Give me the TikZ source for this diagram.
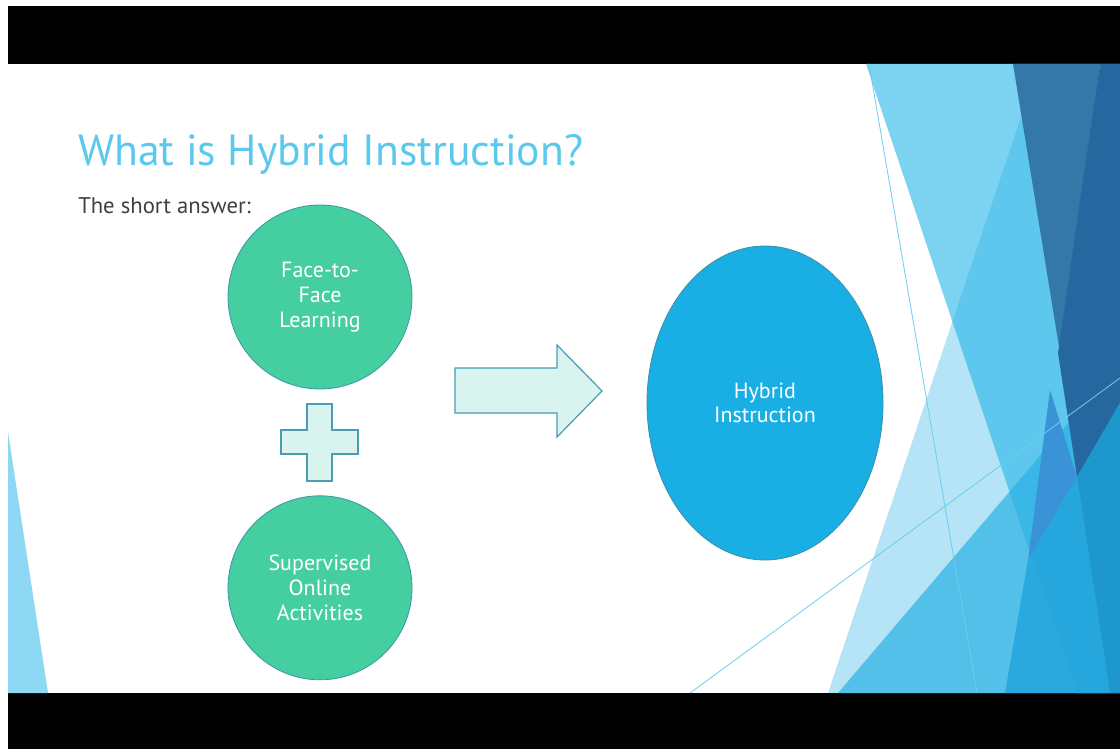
\documentclass[tikz,border=0pt]{standalone}
\usepackage{fontspec}
\setmainfont{PT Sans}
\usepackage{xcolor}
\usepackage{tikz}
\usetikzlibrary{positioning,shapes.geometric}

\definecolor{titleblue}{HTML}{5BC8EE}
\definecolor{bodygray}{HTML}{404040}
\definecolor{mint}{HTML}{45CEA0}
\definecolor{mintedge}{HTML}{3C95A8}
\definecolor{palemint}{HTML}{D9F4EE}
\definecolor{paleedge}{HTML}{4A9BB4}
\definecolor{hybridblue}{HTML}{19AEE4}
\definecolor{hybridedge}{HTML}{3D8EA6}
\definecolor{facetlight}{HTML}{7BD3F1}
\definecolor{facetmid}{HTML}{2AB2E6}
\definecolor{facetsteel}{HTML}{3378A8}
\definecolor{facetdark}{HTML}{2767A0}
\definecolor{facetviolet}{HTML}{3A93D6}
\definecolor{facetdeep}{HTML}{1E97CC}
\definecolor{facetbright}{HTML}{22A5DD}
\definecolor{facetline}{HTML}{6DCDEF}
\definecolor{facetsliver}{HTML}{8ED8F3}

\begin{document}
\begin{tikzpicture}[x=0.75pt,y=-0.75pt,
  bubble/.style={circle, fill=mint, draw=mintedge, line width=0.6pt,
    minimum size=138pt, text=white, align=center,
    font=\fontsize{16.5}{18.5}\selectfont},
  paleshape/.style={fill=palemint, draw=paleedge, line width=0.9pt},
  thinline/.style={facetline, line width=0.6pt}]
\useasboundingbox (0,0) rectangle (1120,749);

% Slide background and black bars
\fill[white] (0,0) rectangle (1120,749);
\fill[black] (8,6) rectangle (1120,64);
\fill[black] (8,693) rectangle (1120,749);

% Facet decoration on the right
\begin{scope}
\clip (8,64) rectangle (1120,693);
\fill[facetlight] (866,64) -- (1120,64) -- (1120,693) -- (1077,693) -- cycle;
\fill[facetmid, opacity=0.35] (1025,105) -- (828,693) -- (1120,693) -- (1120,400) -- cycle;
\fill[facetmid, opacity=0.7] (838,693) -- (1120,362) -- (1120,693) -- cycle;
\fill[facetsteel] (1013,64) -- (1100,64) -- (1060,353) -- cycle;
\fill[facetdark] (1100,64) -- (1120,64) -- (1120,403) -- (1077,477) -- (1058,353) -- cycle;
\fill[facetviolet] (1050,390) -- (1077,477) -- (1028,560) -- cycle;
\fill[facetbright, opacity=0.85] (1077,477) -- (1028,560) -- (1005,693) -- (1110,693) -- cycle;
\fill[facetdeep] (1120,403) -- (1077,477) -- (1110,693) -- (1120,693) -- cycle;
\draw[thinline] (869,64) -- (977,693);
\draw[thinline] (690,693) -- (1120,378);
% Left sliver
\fill[facetsliver] (8,432) -- (48,693) -- (8,693) -- cycle;
\end{scope}

% Title and subtitle
\node[anchor=base west, text=titleblue, inner sep=0pt,
  font=\fontsize{32.7}{38}\selectfont] (title) at (78,165) {What is Hybrid Instruction?};
\node[anchor=base west, text=bodygray, inner sep=0pt,
  font=\fontsize{17}{20}\selectfont] (short) at (78,213) {The short answer:};

% Two inputs
\node[bubble] (face) at (320,297) {Face-to-\\Face\\Learning};
\node[bubble, below=79.5pt of face] (online) {Supervised\\Online\\Activities};

% Plus sign
\draw[paleshape] (307,404) -- (332,404) -- (332,430) -- (358,430) -- (358,454)
  -- (332,454) -- (332,481) -- (307,481) -- (307,454) -- (281,454)
  -- (281,430) -- (307,430) -- cycle;

% Block arrow
\draw[paleshape] (455,368) -- (557,368) -- (557,345) -- (602,391)
  -- (557,437) -- (557,413) -- (455,413) -- cycle;

% Result
\node[ellipse, fill=hybridblue, draw=hybridedge, line width=0.6pt,
  minimum width=177pt, minimum height=235.5pt, text=white, align=center,
  font=\fontsize{16.5}{18.5}\selectfont] (hybrid) at (765,403) {Hybrid\\Instruction};
\end{tikzpicture}
\end{document}
